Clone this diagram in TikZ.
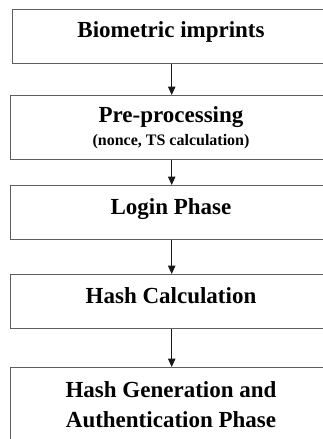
\documentclass[tikz,border=0pt]{standalone}
\usepackage{fontspec}
\setmainfont{Liberation Serif}
\usetikzlibrary{arrows.meta}
\definecolor{boxgray}{HTML}{5E5E5E}
\begin{document}
\begin{tikzpicture}[x=1pt,y=-1pt,
  box/.style={draw=boxgray,line width=1.4pt,inner sep=0pt,anchor=north west},
  lbl/.style={font=\bfseries\fontsize{23}{28}\selectfont,anchor=base,inner sep=0pt},
  small/.style={font=\bfseries\fontsize{16}{19}\selectfont,anchor=base,inner sep=0pt},
  flow/.style={draw=black!90,line width=1pt,-{Triangle[width=7.5pt,length=8.5pt]}}]
\useasboundingbox (0,0) rectangle (322,439);
\fill[white] (0,0) rectangle (322,439);

% process boxes (they run past the right and bottom edges)
\node[box,minimum width=318pt,minimum height=54pt] (b1) at (12,9) {};
\node[box,minimum width=323pt,minimum height=64pt] (b2) at (9.5,95) {};
\node[box,minimum width=323pt,minimum height=54pt] (b3) at (9.5,185) {};
\node[box,minimum width=323pt,minimum height=54pt] (b4) at (9.5,274) {};
\node[box,minimum width=323pt,minimum height=93pt] (b5) at (9.5,367) {};

% labels
\node[lbl] (t1) at (171,37.3) {Biometric imprints};
\node[lbl] (t2) at (171,122) {Pre-processing};
\node[small] (t2b) at (171,145) {(nonce, TS calculation)};
\node[lbl] (t3) at (171,214) {Login Phase};
\node[lbl] (t4) at (171,303) {Hash Calculation};
\node[lbl] (t5) at (171,397) {Hash Generation and};
\node[lbl] (t5b) at (171,427) {Authentication Phase};

% flow arrows
\draw[flow] (b1) -- (b2);
\draw[flow] (b2) -- (b3);
\draw[flow] (b3) -- (b4);
\draw[flow] (b4) -- (b5);
\end{tikzpicture}
\end{document}
